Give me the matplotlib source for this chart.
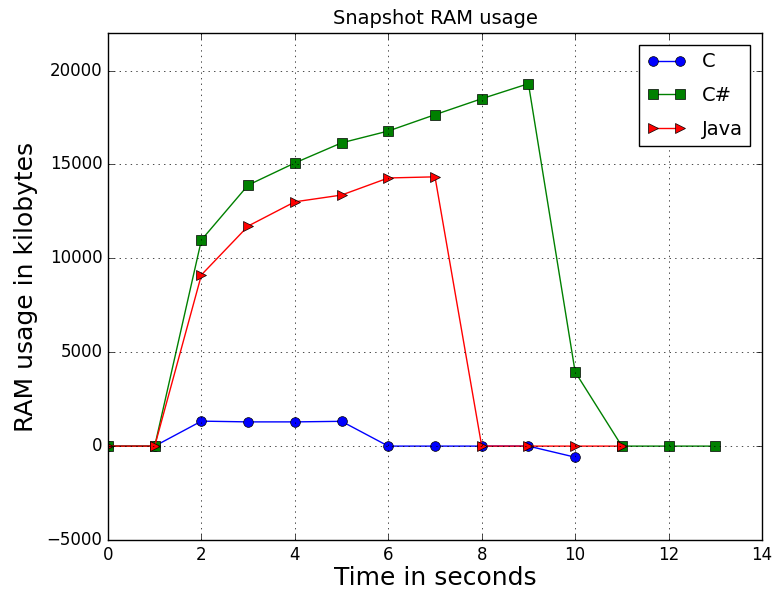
import matplotlib
matplotlib.use("Agg")
import matplotlib.pyplot as plt

plt.style.use('classic')

c_x = [0, 1, 2, 3, 4, 5, 6, 7, 8, 9, 10]
c_y = [0, 0, 1330, 1290, 1290, 1320, 0, 0, 0, 0, -590]
cs_x = [0, 1, 2, 3, 4, 5, 6, 7, 8, 9, 10, 11, 12, 13]
cs_y = [0, 0, 10980, 13900, 15080, 16150, 16780, 17650, 18500, 19300, 3950, 0, 0, 0]
java_x = [0, 1, 2, 3, 4, 5, 6, 7, 8, 9, 10, 11]
java_y = [0, 0, 9120, 11720, 13010, 13370, 14280, 14340, 0, 0, 0, 0]

fig = plt.figure(figsize=(7.74, 5.92), dpi=100, facecolor='white')
ax = fig.add_axes([108/774, 52/592, 654/774, 507/592])
ax.plot(c_x, c_y, 'b-o', label='C', markersize=7)
ax.plot(cs_x, cs_y, 'g-s', label='C#', markersize=7)
ax.plot(java_x, java_y, 'r->', label='Java', markersize=7)
ax.set_xlim(0, 14)
ax.set_ylim(-5000, 22000)
ax.set_yticks([-5000, 0, 5000, 10000, 15000, 20000])
ax.grid(True)
ax.set_title('Snapshot RAM usage', fontsize=14, y=1.005)
ax.set_xlabel('Time in seconds', fontsize=18, labelpad=2)
ax.set_ylabel('RAM usage in kilobytes', fontsize=18, labelpad=6)
ax.legend(loc='upper right', fontsize=14, labelspacing=0.75, borderaxespad=0.6)
fig.savefig('out.png', dpi=100, facecolor='white')
